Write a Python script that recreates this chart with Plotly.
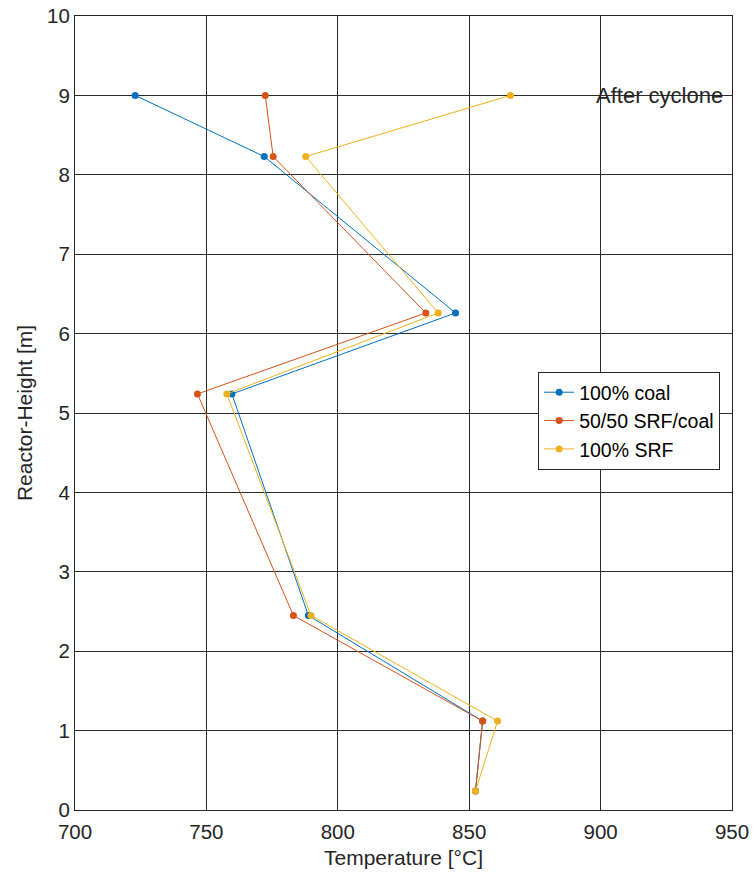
import plotly.graph_objects as go

heights = [0.24, 1.12, 2.45, 5.24, 6.26, 8.23, 9.0]
coal_100 = [852.4, 855.1, 788.8, 759.7, 844.8, 772.0, 722.9]
srf_coal_5050 = [852.4, 855.1, 783.1, 746.6, 833.5, 775.4, 772.4]
srf_100 = [852.4, 860.8, 789.8, 757.8, 838.2, 787.8, 865.7]

series_names = ["100% coal", "50/50 SRF/coal", "100% SRF"]
series_vals = [coal_100, srf_coal_5050, srf_100]
colors = ["#0072BD", "#D95319", "#EDB120"]

FONT = "Liberation Sans, Arial"

fig = go.Figure()
for name, vals, c in zip(series_names, series_vals, colors):
    fig.add_trace(go.Scatter(
        x=vals, y=heights, mode="lines+markers", name=name,
        line=dict(color=c, width=1), marker=dict(color=c, size=7),
    ))

fig.add_annotation(x=897.5, y=9, text="After cyclone", showarrow=False,
                   xanchor="left", yanchor="middle",
                   font=dict(family=FONT, size=22, color="#262626"))

axis_common = dict(
    showgrid=True, gridcolor="#2b2b2b", gridwidth=1,
    showline=True, linecolor="#262626", linewidth=1, mirror=True,
    ticks="inside", ticklen=5, tickcolor="#262626",
    zeroline=False, automargin=False,
    tickfont=dict(family=FONT, size=20.5, color="#262626"),
)

fig.update_layout(
    width=754, height=875,
    margin=dict(l=75, r=22, t=16, b=65),
    paper_bgcolor="white", plot_bgcolor="white",
    xaxis=dict(range=[700, 950], dtick=50, ticklabelstandoff=3,
               title=dict(text="Temperature [°C]", standoff=8,
                          font=dict(family=FONT, size=21, color="#262626")),
               **axis_common),
    yaxis=dict(range=[0, 10], dtick=1,
               title=dict(text="Reactor-Height [m]", standoff=8,
                          font=dict(family=FONT, size=21, color="#262626")),
               **axis_common),
    legend=dict(x=0.705, y=0.5516, xanchor="left", yanchor="top",
                bgcolor="white", bordercolor="#262626", borderwidth=1,
                font=dict(family=FONT, size=19.5, color="#000000"),
                tracegroupgap=0, itemwidth=30),
    showlegend=True,
)

fig.write_html("out.html")
